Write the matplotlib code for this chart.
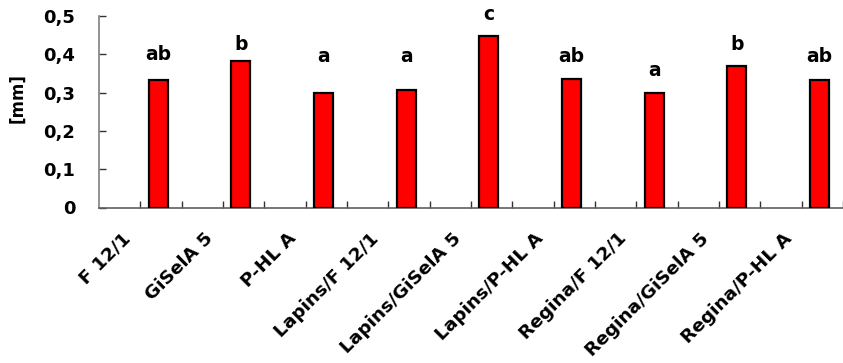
import matplotlib
matplotlib.use('Agg')
import matplotlib.pyplot as plt
import matplotlib.transforms as mtransforms
import numpy as np

# data
categories = ['F 12/1', 'GiSelA 5', 'P-HL A', 'Lapins/F 12/1', 'Lapins/GiSelA 5',
              'Lapins/P-HL A', 'Regina/F 12/1', 'Regina/GiSelA 5', 'Regina/P-HL A']
values = [0.333, 0.383, 0.300, 0.306, 0.449, 0.336, 0.300, 0.369, 0.332]
letters = ['ab', 'b', 'a', 'a', 'c', 'ab', 'a', 'b', 'ab']
letter_y = [0.399, 0.425, 0.394, 0.394, 0.504, 0.394, 0.357, 0.425, 0.394]
yticks = [0, 0.1, 0.2, 0.3, 0.4, 0.5]
ytick_labels = ['0', '0,1', '0,2', '0,3', '0,4', '0,5']

plt.rcParams['font.family'] = ['DejaVu Sans']
plt.rcParams['font.weight'] = 'bold'

fig = plt.figure(figsize=(8.43, 3.63), dpi=100)
W, H = 843, 363
ax = fig.add_axes([99 / W, (H - 207.5) / H, (W - 99) / W, 191.5 / H])

x = np.arange(len(categories))
bar_pos = x + 0.215
ax.bar(bar_pos, values, width=0.23, color='#ff0000', edgecolor='black', linewidth=1.6, zorder=3)

for xp, ly, lt in zip(bar_pos, letter_y, letters):
    ax.text(xp, ly, lt, ha='center', va='center', fontsize=13.5, fontweight='bold', color='black')

ax.set_xlim(-0.5, (W - 99) / 83 - 0.5)
ax.set_ylim(0, 0.5)

ax.spines['top'].set_visible(False)
ax.spines['right'].set_visible(False)
ax.spines['left'].set_color('#808080')
ax.spines['bottom'].set_color('#606060')
ax.spines['left'].set_linewidth(1.2)
ax.spines['bottom'].set_linewidth(1.2)

ax.set_yticks(yticks)
ax.set_yticklabels(ytick_labels, fontsize=13, fontweight='bold')
ax.tick_params(axis='y', direction='in', length=5, width=1, color='#333333', pad=17)

ax.set_xticks(x)
ax.set_xticks(x + 0.5, minor=True)
ax.tick_params(axis='x', which='both', direction='in', length=5, width=1, color='#333333')
ax.set_xticklabels([])

# rotated category labels, anchored left of and below each tick
offset = mtransforms.ScaledTranslation(-19 / 100, -22 / 100, fig.dpi_scale_trans)
for xi, cat in zip(x, categories):
    ax.text(xi, 0, cat, rotation=45, ha='right', va='top', rotation_mode='anchor',
            fontsize=13.3, fontweight='bold', transform=ax.get_xaxis_transform() + offset,
            clip_on=False)

fig.text(17 / W, 1 - 98 / H, '[mm]', rotation=90, ha='center', va='center',
         fontsize=12, fontweight='bold')

fig.savefig('out.png', dpi=100)
